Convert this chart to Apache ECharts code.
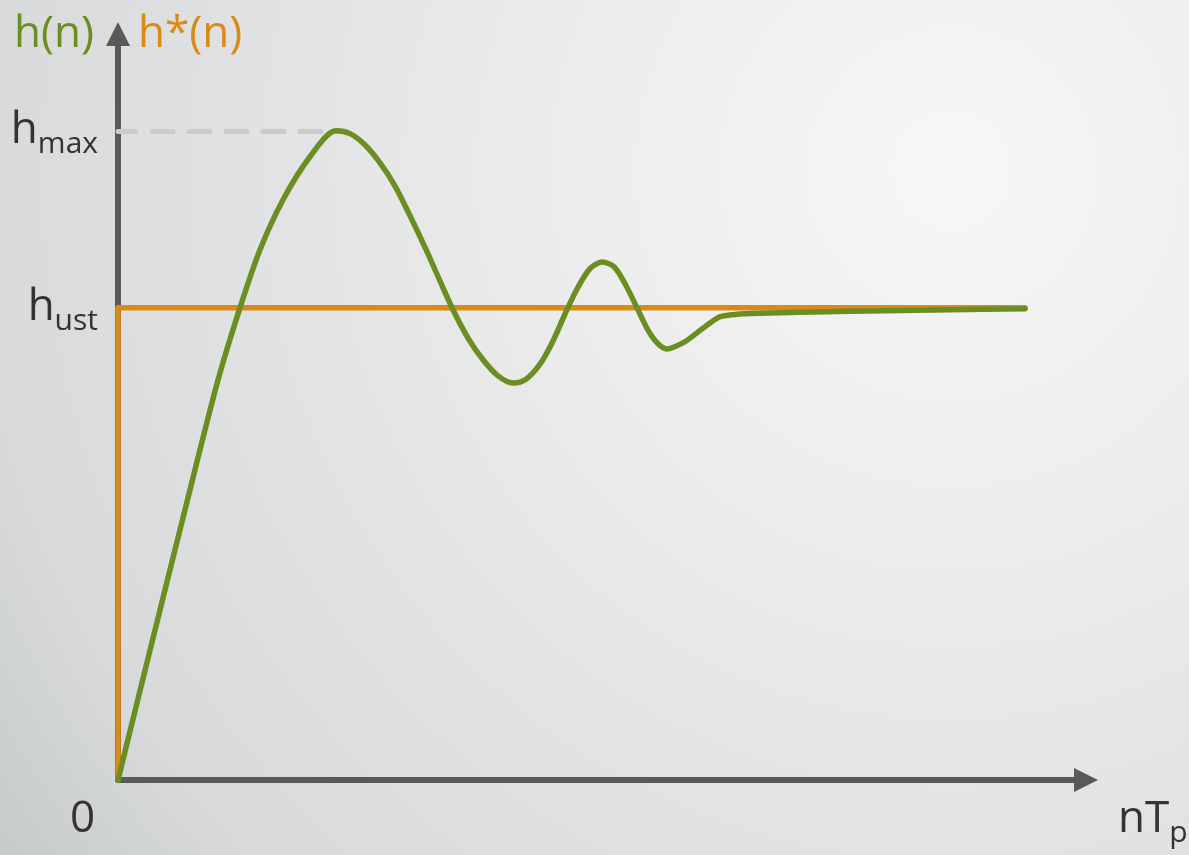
<!DOCTYPE html>
<html>
<head>
<meta charset="utf-8">
<script src="https://cdn.jsdelivr.net/npm/echarts@6/dist/echarts.min.js"></script>
<style>
html,body{margin:0;padding:0;width:1189px;height:855px;overflow:hidden;}
#chart{width:1189px;height:855px;}
</style>
</head>
<body>
<div id="chart"></div>
<script>
// ---- data ----
const timeSteps = [0, 3.31, 6.92, 10.33, 12.60, 14.67, 17.05, 19.83, 22.52, 23.97, 25.52, 27.07, 28.62, 30.17, 31.92, 33.26, 34.61, 36.16, 37.71, 39.26, 40.81, 42.15, 43.60, 44.94, 46.18, 47.42, 48.76, 50.00, 51.24, 52.38, 53.62, 54.75, 55.79, 56.71, 58.37, 59.81, 61.16, 62.19, 63.22, 65.29, 75.62, 85.95, 93.70];
const hValues = [0, 0.275, 0.572, 0.847, 1.000, 1.123, 1.229, 1.320, 1.375, 1.369, 1.345, 1.307, 1.258, 1.195, 1.119, 1.057, 0.996, 0.936, 0.890, 0.856, 0.841, 0.849, 0.881, 0.930, 0.987, 1.040, 1.083, 1.097, 1.087, 1.051, 1.000, 0.953, 0.924, 0.913, 0.926, 0.947, 0.968, 0.981, 0.985, 0.988, 0.993, 0.996, 0.998];
const hStarX = [0, 0, 93.70];
const hStarY = [0, 1.0, 1.0];
const hUst = 1.0;
const hMax = 1.375;
const hMaxX = 22.52;
const yTickValues = [hUst, hMax];
const yTickSubs = ['ust', 'max'];
const xTickLabels = ['0'];

const GREEN = '#6b8e23';
const ORANGE = '#d98b1a';
const AXIS = '#595959';
const TEXT = '#333333';
const FONT = '"Open Sans", "Noto Sans", sans-serif';

const chart = echarts.init(document.getElementById('chart'), null, {renderer: 'canvas'});

const option = {
  animation: false,
  backgroundColor: {
    type: 'radial', x: 0.8, y: 0.2, r: 1.4,
    colorStops: [
      {offset: 0, color: '#f7f7f7'},
      {offset: 0.36, color: '#ebebeb'},
      {offset: 0.61, color: '#e0e1e2'},
      {offset: 0.82, color: '#d7d9da'},
      {offset: 1, color: '#c5c8c9'}
    ]
  },
  grid: {left: 118, top: 34, width: 968, height: 746, containLabel: false},
  xAxis: {
    type: 'value', min: 0, max: 100,
    splitLine: {show: false},
    axisTick: {show: false},
    axisLabel: {show: false},
    axisLine: {
      show: true, onZero: false,
      symbol: ['none', 'triangle'], symbolSize: [24, 24],
      lineStyle: {color: AXIS, width: 6, cap: 'round'}
    }
  },
  yAxis: {
    type: 'value', min: 0, max: 1.58,
    splitLine: {show: false},
    axisTick: {show: false},
    axisLine: {
      show: true, onZero: false,
      symbol: ['none', 'triangle'], symbolSize: [24, 24],
      lineStyle: {color: AXIS, width: 6, cap: 'round'}
    },
    axisLabel: {
      show: true,
      customValues: yTickValues,
      margin: 20,
      formatter: function (v) {
        const i = yTickValues.indexOf(v);
        return '{h|h}{s|' + yTickSubs[i] + '}';
      },
      rich: {
        h: {fontSize: 44, fontFamily: FONT, color: TEXT},
        s: {fontSize: 30, fontFamily: FONT, color: TEXT, padding: [28, 0, 0, 0]}
      }
    }
  },
  series: [
    {
      type: 'line',
      data: hStarX.map((x, i) => [x, hStarY[i]]),
      showSymbol: false,
      lineStyle: {color: ORANGE, width: 5.5, join: 'round', cap: 'round'},
      z: 2
    },
    {
      type: 'line',
      data: timeSteps.map((x, i) => [x, hValues[i]]),
      smooth: 0.3,
      showSymbol: false,
      lineStyle: {color: GREEN, width: 5.5, cap: 'round', join: 'round'},
      z: 3,
      markLine: {
        silent: true, symbol: 'none',
        label: {show: false},
        lineStyle: {color: '#cbcbcb', width: 5, type: [21, 16], dashOffset: 3, cap: 'round'},
        data: [[{coord: [0, hMax]}, {coord: [hMaxX, hMax]}]]
      }
    }
  ],
  graphic: [
    {type: 'text', left: 14, top: 12, style: {text: 'h(n)', fill: GREEN, font: '44px ' + FONT}},
    {type: 'text', left: 138, top: 12, style: {text: 'h*(n)', fill: ORANGE, font: '44px ' + FONT}},
    {type: 'text', left: 70, top: 797, style: {text: xTickLabels[0], fill: TEXT, font: '44px ' + FONT}},
    {type: 'text', left: 1118, top: 797, style: {
      text: '{m|nT}{s|p}',
      rich: {
        m: {fontSize: 44, fontFamily: FONT, fill: TEXT, color: TEXT},
        s: {fontSize: 30, fontFamily: FONT, fill: TEXT, color: TEXT, padding: [28, 0, 0, 0]}
      }
    }}
  ]
};
chart.setOption(option);
</script>
</body>
</html>
